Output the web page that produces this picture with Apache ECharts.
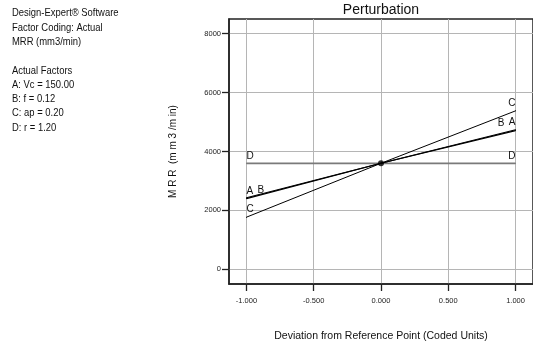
<!DOCTYPE html>
<html>
<head>
<meta charset="utf-8">
<script src="https://cdn.jsdelivr.net/npm/echarts@6/dist/echarts.min.js"></script>
<style>
  html, body { margin: 0; padding: 0; background: #fff; }
  #chart { width: 533px; height: 348px; }
</style>
</head>
<body>
<div id="chart"></div>
<script>
// Coded deviation from the reference point at which each trace is evaluated
const codedLevels = [-1, 0, 1];

// MRR (mm3/min) perturbation traces, one per factor
const mrrA = [2400, 3600, 4740];
const mrrB = [2430, 3600, 4710];
const mrrC = [1770, 3600, 5380];
const mrrD = [3600, 3600, 3600];

// Reference point (all factors at their actual settings)
const referencePoint = [0, 3600];

// Tick values
const xTicks = [-1, -0.5, 0, 0.5, 1];
const yTicks = [0, 2000, 4000, 6000, 8000];

// Side panel text
const infoLines = [
  'Design-Expert\u00ae Software',
  'Factor Coding: Actual',
  'MRR (mm3/min)',
  '',
  'Actual Factors',
  'A: Vc = 150.00',
  'B: f = 0.12',
  'C: ap = 0.20',
  'D: r = 1.20'
];

const SANS = "'Liberation Sans', Arial, sans-serif";

// Build a line series whose end points carry the factor letter
function traceSeries(name, values, color, width, labelShift) {
  const last = codedLevels.length - 1;
  const data = codedLevels.map((x, i) => {
    const item = { value: [x, values[i]] };
    if (i === 0) {
      item.label = { show: true, align: 'left', offset: [labelShift, 0] };
    } else if (i === last) {
      item.label = { show: true, align: 'right', offset: [-labelShift, 0] };
    }
    return item;
  });
  return {
    name: name,
    type: 'line',
    data: data,
    symbol: 'circle',
    symbolSize: 1,
    showSymbol: true,
    itemStyle: { color: color },
    lineStyle: { color: color, width: width },
    label: {
      show: false,
      position: 'top',
      distance: 2,
      formatter: name,
      color: '#111',
      fontSize: 10,
      fontFamily: SANS
    },
    silent: true,
    z: 3
  };
}

const chart = echarts.init(document.getElementById('chart'), null, { renderer: 'canvas' });

chart.setOption({
  animation: false,
  backgroundColor: '#fff',
  grid: {
    left: 229,
    top: 19,
    right: -4,
    bottom: 64,
    show: true,
    borderColor: '#222',
    borderWidth: 1.5,
    backgroundColor: 'transparent'
  },
  xAxis: {
    type: 'value',
    min: -1.13,
    max: 1.13,
    name: 'Deviation from Reference Point (Coded Units)',
    nameLocation: 'middle',
    nameGap: 47,
    nameTextStyle: { fontSize: 10.5, color: '#111', fontFamily: SANS },
    axisLine: { show: true, onZero: false, lineStyle: { color: '#222', width: 1.5 } },
    axisTick: { show: true, length: 7, customValues: xTicks, lineStyle: { color: '#222', width: 1.3 } },
    axisLabel: {
      customValues: xTicks,
      formatter: v => v.toFixed(3),
      fontSize: 7.5,
      color: '#222',
      margin: 13,
      fontFamily: SANS
    },
    splitLine: { show: true, lineStyle: { color: '#b5b5b5', width: 1 } }
  },
  yAxis: {
    type: 'value',
    min: -500,
    max: 8500,
    name: 'M R R  (m m 3 /m in)',
    nameLocation: 'middle',
    nameRotate: 90,
    nameGap: 51,
    nameTextStyle: { fontSize: 10, color: '#111', fontFamily: SANS },
    axisLine: { show: true, onZero: false, lineStyle: { color: '#222', width: 1.5 } },
    axisTick: { show: true, length: 7, customValues: yTicks, lineStyle: { color: '#222', width: 1.3 } },
    axisLabel: {
      customValues: yTicks,
      formatter: v => String(v),
      fontSize: 7.5,
      color: '#222',
      margin: 8,
      fontFamily: SANS
    },
    splitLine: { show: true, lineStyle: { color: '#b5b5b5', width: 1 } }
  },
  series: [
    traceSeries('D', mrrD, '#7a7a7a', 1.7, 0),
    traceSeries('C', mrrC, '#000', 1, 0),
    traceSeries('A', mrrA, '#000', 1.2, 0),
    traceSeries('B', mrrB, '#000', 1.2, 11),
    {
      name: 'Reference',
      type: 'scatter',
      data: [referencePoint],
      symbol: 'circle',
      symbolSize: 6,
      itemStyle: { color: '#000' },
      silent: true,
      z: 5
    }
  ],
  graphic: [
    {
      type: 'text',
      x: 12,
      y: 6,
      scaleX: 0.82,
      style: {
        text: infoLines.join('\n'),
        font: '11.5px ' + SANS,
        lineHeight: 14.3,
        fill: '#111'
      }
    },
    {
      type: 'text',
      x: 381,
      y: 10,
      style: {
        text: 'Perturbation',
        font: '14px ' + SANS,
        fill: '#111',
        align: 'center',
        verticalAlign: 'middle'
      }
    }
  ]
});
</script>
</body>
</html>
